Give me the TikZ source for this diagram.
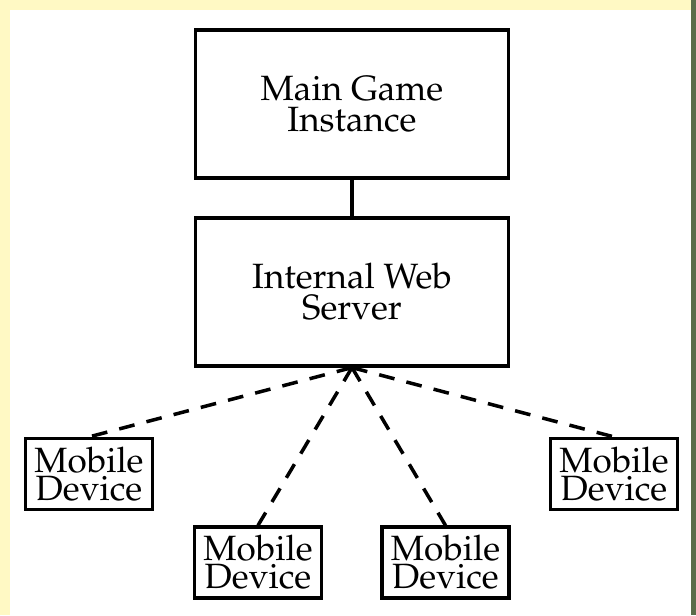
\documentclass[tikz,border=0pt]{standalone}
\usepackage[T1]{fontenc}
\usepackage{mathpazo}
\usetikzlibrary{positioning}
\definecolor{paleyellow}{RGB}{255,249,196}
\definecolor{darkolive}{RGB}{91,109,74}

\begin{document}
\begin{tikzpicture}[
        block/.style={draw, line width=0.9pt, minimum width=3.13cm, minimum height=1.48cm, align=center, font=\fontsize{10}{8.8}\selectfont},
        device/.style={draw, line width=0.9pt, minimum width=1.27cm, minimum height=0.71cm, inner sep=0pt, align=center, font=\fontsize{10}{8}\selectfont},
        link/.style={line width=1pt},
        wireless/.style={line width=1pt, dash pattern=on 4.5pt off 3.5pt}
    ]
        % page edges
        \fill[paleyellow] (0,0) rectangle (6.96,6.15);
        \fill[white] (0.10,0) rectangle (6.91,6.05);
        \fill[darkolive] (6.91,0) rectangle (6.96,6.15);
        \useasboundingbox (0,0) rectangle (6.96,6.15);

        \node[block] (game) at (3.52,5.11) {Main Game\\Instance};
        \node[block] (web) at (3.52,3.23) {Internal Web\\Server};

        \node[device] (dev1) at (0.89,1.41) {Mobile\\Device};
        \node[device] (dev2) at (2.58,0.525) {Mobile\\Device};
        \node[device] (dev3) at (4.455,0.525) {Mobile\\Device};
        \node[device] (dev4) at (6.14,1.41) {Mobile\\Device};

        \draw[link] (game) -- (web);
        \foreach \d in {dev1,dev2,dev3,dev4}
            \draw[wireless] (web.south) -- (\d.north);

    \end{tikzpicture}
\end{document}
